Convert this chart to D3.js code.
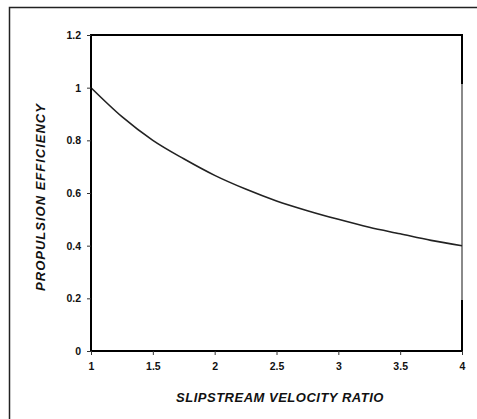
<!DOCTYPE html>
<html>
<head>
<meta charset="utf-8">
<script src="https://cdn.jsdelivr.net/npm/d3@7"></script>
<style>
  body { margin: 0; background: #fff; }
  svg { display: block; }
  .tick text { font-family: "Liberation Sans", Arial, sans-serif; font-weight: bold; font-size: 10.5px; fill: #111; }
</style>
</head>
<body>
<script>
// values
var velocityRatio = [1, 1.25, 1.5, 1.75, 2, 2.25, 2.5, 2.75, 3, 3.25, 3.5, 3.75, 4];
var efficiency = [1.0, 0.89, 0.8, 0.73, 0.667, 0.615, 0.57, 0.533, 0.5, 0.47, 0.445, 0.42, 0.4];
var xTicks = [1, 1.5, 2, 2.5, 3, 3.5, 4];
var yTicks = [0, 0.2, 0.4, 0.6, 0.8, 1, 1.2];

var width = 477;
var height = 419;

// plot box edges (note: "top" is taken by window.top)
var plotLeft = 91, plotRight = 462, plotTop = 35, plotBottom = 351;

var xScale = d3.scaleLinear()
               .domain([1, 4])
               .range([plotLeft, plotRight]);

var yScale = d3.scaleLinear()
               .domain([0, 1.2])
               .range([plotBottom, plotTop]);

var svg = d3.select("body")
            .append("svg")
            .attr("width", width)
            .attr("height", height);

// outer frame (only left and top show)
svg.append("rect")
   .attr("x", 9.5)
   .attr("y", 7.5)
   .attr("width", 480)
   .attr("height", 430)
   .attr("fill", "none")
   .attr("stroke", "#222")
   .attr("stroke-width", 1.5);

// plot frame
svg.append("rect")
   .attr("x", plotLeft)
   .attr("y", plotTop)
   .attr("width", plotRight - plotLeft)
   .attr("height", plotBottom - plotTop)
   .attr("fill", "none")
   .attr("stroke", "#000")
   .attr("stroke-width", 2);

// the lighter bit on the right edge
svg.append("line")
   .attr("x1", plotRight).attr("x2", plotRight)
   .attr("y1", 84).attr("y2", 300)
   .attr("stroke", "#8a8a8a")
   .attr("stroke-width", 2);

var line = d3.line()
             .x(function(d, i){ return xScale(velocityRatio[i]); })
             .y(function(d){ return yScale(d); })
             .curve(d3.curveMonotoneX);

svg.append("path")
   .datum(efficiency)
   .attr("d", line)
   .attr("fill", "none")
   .attr("stroke", "#222")
   .attr("stroke-width", 1.6);

var xAxis = d3.axisBottom()
              .scale(xScale)
              .tickValues(xTicks)
              .tickSize(4)
              .tickPadding(8)
              .tickFormat(d3.format("~g"));

var yAxis = d3.axisLeft()
              .scale(yScale)
              .tickValues(yTicks)
              .tickSize(4)
              .tickPadding(6)
              .tickFormat(d3.format("~g"));

var gx = svg.append("g")
            .attr("transform", "translate(0," + plotBottom + ")")
            .call(xAxis);
gx.select(".domain").attr("stroke-width", 2).attr("d", "M" + plotLeft + ",0H" + plotRight);
gx.selectAll(".tick line").attr("stroke", "#333");

var gy = svg.append("g")
            .attr("transform", "translate(" + plotLeft + ",0)")
            .call(yAxis);
gy.select(".domain").attr("stroke-width", 2).attr("d", "M0," + plotBottom + "V" + plotTop);
gy.selectAll(".tick line").attr("stroke", "#333");

svg.append("text")
   .text("SLIPSTREAM VELOCITY RATIO")
   .attr("x", 280)
   .attr("y", 402)
   .attr("text-anchor", "middle")
   .attr("font-family", "Liberation Sans, Arial, sans-serif")
   .attr("font-weight", "bold")
   .attr("font-style", "italic")
   .attr("font-size", 13)
   .attr("letter-spacing", 0.5)
   .attr("fill", "#111");

svg.append("text")
   .text("PROPULSION EFFICIENCY")
   .attr("transform", "translate(45,197) rotate(-90)")
   .attr("text-anchor", "middle")
   .attr("font-family", "Liberation Sans, Arial, sans-serif")
   .attr("font-weight", "bold")
   .attr("font-style", "italic")
   .attr("font-size", 13)
   .attr("letter-spacing", 1)
   .attr("fill", "#111");
</script>
</body>
</html>
